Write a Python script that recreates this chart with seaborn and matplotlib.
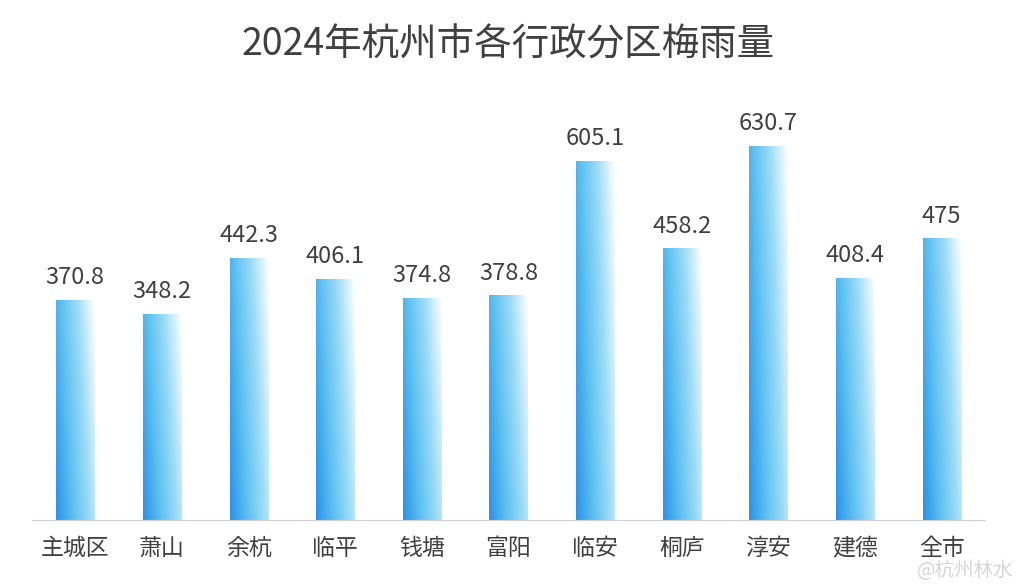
import numpy as np
import matplotlib
matplotlib.use("Agg")
import matplotlib.pyplot as plt
from matplotlib import font_manager as fm
import seaborn as sns
import pandas as pd
from matplotlib.colors import LinearSegmentedColormap

districts = ["主城区", "萧山", "余杭", "临平", "钱塘", "富阳", "临安", "桐庐", "淳安", "建德", "全市"]
rainfall = [370.8, 348.2, 442.3, 406.1, 374.8, 378.8, 605.1, 458.2, 630.7, 408.4, 475]
labels = ["370.8", "348.2", "442.3", "406.1", "374.8", "378.8", "605.1", "458.2", "630.7", "408.4", "475"]

cjk = sorted(f for f in fm.findSystemFonts() if "cjk" in f.lower() and "sans" in f.lower()
             and "serif" not in f.lower())
pref = [f for f in cjk if "Regular" in f] or cjk
if pref:
    fm.fontManager.addfont(pref[0])
    name = fm.FontProperties(fname=pref[0]).get_name()
    plt.rcParams["font.family"] = [name, "DejaVu Sans"]
else:
    plt.rcParams["font.family"] = ["Noto Sans CJK SC", "DejaVu Sans"]

fig = plt.figure(figsize=(10.16, 5.88), dpi=100)
ax = fig.add_axes([0.0315, 0.1156, 0.938, 0.7313])
df = pd.DataFrame({"d": districts, "v": rainfall})
sns.barplot(data=df, x="d", y="v", ax=ax, width=0.44, color="#4fb3ee", saturation=1)

cmap = LinearSegmentedColormap.from_list("g", ["#2a92e8", "#5cc0f0", "#9fdcf6", "#ffffff"])
yy, xx = np.mgrid[0:1:100j, 0:1:100j]
grad = np.clip(0.75 * xx + 0.25 * yy, 0, 1)
for p in ax.patches:
    x0, y0, w, h = p.get_x(), p.get_y(), p.get_width(), p.get_height()
    im = ax.imshow(grad, cmap=cmap, extent=[x0, x0 + w, y0, y0 + h], origin="lower",
                   aspect="auto", zorder=p.get_zorder() + 0.1)
    im.set_clip_path(p)
    p.set_edgecolor("none")

for i, (v, t) in enumerate(zip(rainfall, labels)):
    ax.text(i, v + 18, t, ha="center", va="bottom", fontsize=17, color="#404040")

ax.set_xlim(-0.5, 10.5)
ax.set_ylim(0, 725)
ax.set_xlabel(""); ax.set_ylabel("")
ax.set_yticks([])
for s in ["top", "right", "left"]:
    ax.spines[s].set_visible(False)
ax.spines["bottom"].set_color("#d0d0d0")
ax.tick_params(axis="x", length=0, labelsize=16.5, colors="#404040", pad=12)
fig.text(0.5, 0.923, "2024年杭州市各行政分区梅雨量", ha="center", va="center", fontsize=27, color="#404040")
fig.text(0.997, 0.03, "@杭州林水", ha="right", va="center", fontsize=14, color="#cccccc", alpha=0.8)
fig.savefig("out.png", dpi=100)
